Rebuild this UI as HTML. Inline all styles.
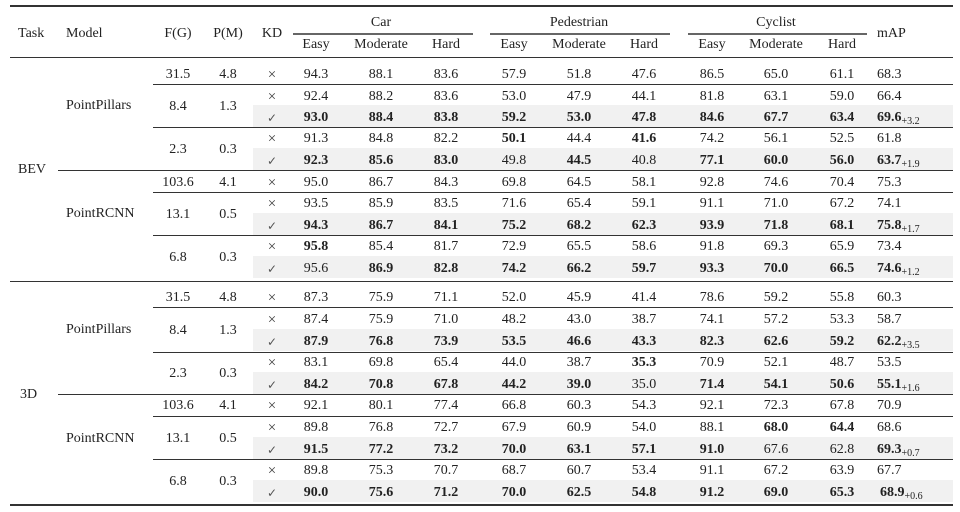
<!DOCTYPE html>
<html><head><meta charset="utf-8"><style>
body{margin:0;background:#fff;}
#t{position:relative;width:960px;height:512px;overflow:hidden;font-family:"Liberation Serif","DejaVu Serif",serif;font-size:14px;color:#222;}
.r{position:absolute;left:0;width:960px;height:20px;line-height:20px;transform:translateY(2px);}
.r span{position:absolute;top:0;width:60px;text-align:center;white-space:nowrap;}
.a{left:148px}.b{left:198px}.k{left:242px}
.c1{left:286px}.c2{left:351px}.c3{left:416px}
.c4{left:484px}.c5{left:549px}.c6{left:614px}
.c7{left:682px}.c8{left:746px}.c9{left:812px}
.r span.m{left:877px;text-align:left;width:80px}
.bd span{font-weight:bold}
.r span.k{font-weight:normal;color:#444;font-size:15px}
.r span.ck{font-size:12px;color:#555}
i{font-style:normal;font-weight:bold}
sub{font-size:10px;font-weight:normal;vertical-align:-3px;line-height:0}
.l{position:absolute;height:1px;background:#333;right:7px}
.sh{position:absolute;left:253px;right:7px;height:22px;background:#f1f1f1}
.g{position:absolute;height:20px;line-height:20px;white-space:nowrap;transform:translateY(2px)}
</style></head><body><div id="t">
<div class="l" style="top:5px;left:10px;height:2px"></div>
<div class="l" style="top:57px;left:10px"></div>
<div class="l" style="top:33px;left:293px;right:auto;width:180px;background:#666;height:2px"></div>
<div class="l" style="top:33px;left:490px;right:auto;width:180px;background:#666;height:2px"></div>
<div class="l" style="top:33px;left:688px;right:auto;width:179px;background:#666;height:2px"></div>
<div class="l" style="top:84px;left:153px"></div>
<div class="l" style="top:127px;left:153px"></div>
<div class="l" style="top:170px;left:58px"></div>
<div class="l" style="top:192px;left:153px"></div>
<div class="l" style="top:235px;left:153px"></div>
<div class="l" style="top:281px;left:10px"></div>
<div class="l" style="top:307px;left:153px"></div>
<div class="l" style="top:352px;left:153px"></div>
<div class="l" style="top:394px;left:58px"></div>
<div class="l" style="top:416px;left:153px"></div>
<div class="l" style="top:459px;left:153px"></div>
<div class="l" style="top:504px;left:10px;height:2px"></div>

<div class="sh" style="top:105px"></div>
<div class="sh" style="top:148px"></div>
<div class="sh" style="top:213px"></div>
<div class="sh" style="top:256px"></div>
<div class="sh" style="top:329px"></div>
<div class="sh" style="top:372px"></div>
<div class="sh" style="top:437px"></div>
<div class="sh" style="top:480px"></div>

<!-- header -->
<div class="g" style="top:22px;left:18px">Task</div>
<div class="g" style="top:22px;left:66px">Model</div>
<div class="r" style="top:22px"><span class="a">F(G)</span><span class="b">P(M)</span><span class="k" style="font-size:14px;color:#222">KD</span><span class="m">mAP</span></div>
<div class="r" style="top:11px"><span class="c2">Car</span><span class="c5">Pedestrian</span><span class="c8">Cyclist</span></div>
<div class="r" style="top:33px"><span class="c1">Easy</span><span class="c2">Moderate</span><span class="c3">Hard</span><span class="c4">Easy</span><span class="c5">Moderate</span><span class="c6">Hard</span><span class="c7">Easy</span><span class="c8">Moderate</span><span class="c9">Hard</span></div>

<!-- labels -->
<div class="g" style="top:158px;left:18px">BEV</div>
<div class="g" style="top:383px;left:20px">3D</div>
<div class="g" style="top:94px;left:66px">PointPillars</div>
<div class="g" style="top:202px;left:66px">PointRCNN</div>
<div class="g" style="top:318px;left:66px">PointPillars</div>
<div class="g" style="top:427px;left:66px">PointRCNN</div>

<div class="r" style="top:63px"><span class="a">31.5</span><span class="b">4.8</span></div>
<div class="r" style="top:95px"><span class="a">8.4</span><span class="b">1.3</span></div>
<div class="r" style="top:138px"><span class="a">2.3</span><span class="b">0.3</span></div>
<div class="r" style="top:171px"><span class="a">103.6</span><span class="b">4.1</span></div>
<div class="r" style="top:203px"><span class="a">13.1</span><span class="b">0.5</span></div>
<div class="r" style="top:246px"><span class="a">6.8</span><span class="b">0.3</span></div>
<div class="r" style="top:286px"><span class="a">31.5</span><span class="b">4.8</span></div>
<div class="r" style="top:319px"><span class="a">8.4</span><span class="b">1.3</span></div>
<div class="r" style="top:362px"><span class="a">2.3</span><span class="b">0.3</span></div>
<div class="r" style="top:394px"><span class="a">103.6</span><span class="b">4.1</span></div>
<div class="r" style="top:427px"><span class="a">13.1</span><span class="b">0.5</span></div>
<div class="r" style="top:470px"><span class="a">6.8</span><span class="b">0.3</span></div>

<!-- BEV rows -->
<div class="r" style="top:63px"><span class="k">×</span><span class="c1">94.3</span><span class="c2">88.1</span><span class="c3">83.6</span><span class="c4">57.9</span><span class="c5">51.8</span><span class="c6">47.6</span><span class="c7">86.5</span><span class="c8">65.0</span><span class="c9">61.1</span><span class="m">68.3</span></div>
<div class="r" style="top:85px"><span class="k">×</span><span class="c1">92.4</span><span class="c2">88.2</span><span class="c3">83.6</span><span class="c4">53.0</span><span class="c5">47.9</span><span class="c6">44.1</span><span class="c7">81.8</span><span class="c8">63.1</span><span class="c9">59.0</span><span class="m">66.4</span></div>
<div class="r bd" style="top:106px"><span class="k ck">✓</span><span class="c1">93.0</span><span class="c2">88.4</span><span class="c3">83.8</span><span class="c4">59.2</span><span class="c5">53.0</span><span class="c6">47.8</span><span class="c7">84.6</span><span class="c8">67.7</span><span class="c9">63.4</span><span class="m">69.6<sub>+3.2</sub></span></div>
<div class="r" style="top:127px"><span class="k">×</span><span class="c1">91.3</span><span class="c2">84.8</span><span class="c3">82.2</span><span class="c4"><i>50.1</i></span><span class="c5">44.4</span><span class="c6"><i>41.6</i></span><span class="c7">74.2</span><span class="c8">56.1</span><span class="c9">52.5</span><span class="m">61.8</span></div>
<div class="r" style="top:149px"><span class="k ck">✓</span><span class="c1"><i>92.3</i></span><span class="c2"><i>85.6</i></span><span class="c3"><i>83.0</i></span><span class="c4">49.8</span><span class="c5"><i>44.5</i></span><span class="c6">40.8</span><span class="c7"><i>77.1</i></span><span class="c8"><i>60.0</i></span><span class="c9"><i>56.0</i></span><span class="m"><i>63.7</i><sub>+1.9</sub></span></div>
<div class="r" style="top:171px"><span class="k">×</span><span class="c1">95.0</span><span class="c2">86.7</span><span class="c3">84.3</span><span class="c4">69.8</span><span class="c5">64.5</span><span class="c6">58.1</span><span class="c7">92.8</span><span class="c8">74.6</span><span class="c9">70.4</span><span class="m">75.3</span></div>
<div class="r" style="top:192px"><span class="k">×</span><span class="c1">93.5</span><span class="c2">85.9</span><span class="c3">83.5</span><span class="c4">71.6</span><span class="c5">65.4</span><span class="c6">59.1</span><span class="c7">91.1</span><span class="c8">71.0</span><span class="c9">67.2</span><span class="m">74.1</span></div>
<div class="r bd" style="top:214px"><span class="k ck">✓</span><span class="c1">94.3</span><span class="c2">86.7</span><span class="c3">84.1</span><span class="c4">75.2</span><span class="c5">68.2</span><span class="c6">62.3</span><span class="c7">93.9</span><span class="c8">71.8</span><span class="c9">68.1</span><span class="m">75.8<sub>+1.7</sub></span></div>
<div class="r" style="top:235px"><span class="k">×</span><span class="c1"><i>95.8</i></span><span class="c2">85.4</span><span class="c3">81.7</span><span class="c4">72.9</span><span class="c5">65.5</span><span class="c6">58.6</span><span class="c7">91.8</span><span class="c8">69.3</span><span class="c9">65.9</span><span class="m">73.4</span></div>
<div class="r" style="top:257px"><span class="k ck">✓</span><span class="c1">95.6</span><span class="c2"><i>86.9</i></span><span class="c3"><i>82.8</i></span><span class="c4"><i>74.2</i></span><span class="c5"><i>66.2</i></span><span class="c6"><i>59.7</i></span><span class="c7"><i>93.3</i></span><span class="c8"><i>70.0</i></span><span class="c9"><i>66.5</i></span><span class="m"><i>74.6</i><sub>+1.2</sub></span></div>

<!-- 3D rows -->
<div class="r" style="top:286px"><span class="k">×</span><span class="c1">87.3</span><span class="c2">75.9</span><span class="c3">71.1</span><span class="c4">52.0</span><span class="c5">45.9</span><span class="c6">41.4</span><span class="c7">78.6</span><span class="c8">59.2</span><span class="c9">55.8</span><span class="m">60.3</span></div>
<div class="r" style="top:308px"><span class="k">×</span><span class="c1">87.4</span><span class="c2">75.9</span><span class="c3">71.0</span><span class="c4">48.2</span><span class="c5">43.0</span><span class="c6">38.7</span><span class="c7">74.1</span><span class="c8">57.2</span><span class="c9">53.3</span><span class="m">58.7</span></div>
<div class="r bd" style="top:330px"><span class="k ck">✓</span><span class="c1">87.9</span><span class="c2">76.8</span><span class="c3">73.9</span><span class="c4">53.5</span><span class="c5">46.6</span><span class="c6">43.3</span><span class="c7">82.3</span><span class="c8">62.6</span><span class="c9">59.2</span><span class="m">62.2<sub>+3.5</sub></span></div>
<div class="r" style="top:351px"><span class="k">×</span><span class="c1">83.1</span><span class="c2">69.8</span><span class="c3">65.4</span><span class="c4">44.0</span><span class="c5">38.7</span><span class="c6"><i>35.3</i></span><span class="c7">70.9</span><span class="c8">52.1</span><span class="c9">48.7</span><span class="m">53.5</span></div>
<div class="r" style="top:373px"><span class="k ck">✓</span><span class="c1"><i>84.2</i></span><span class="c2"><i>70.8</i></span><span class="c3"><i>67.8</i></span><span class="c4"><i>44.2</i></span><span class="c5"><i>39.0</i></span><span class="c6">35.0</span><span class="c7"><i>71.4</i></span><span class="c8"><i>54.1</i></span><span class="c9"><i>50.6</i></span><span class="m"><i>55.1</i><sub>+1.6</sub></span></div>
<div class="r" style="top:394px"><span class="k">×</span><span class="c1">92.1</span><span class="c2">80.1</span><span class="c3">77.4</span><span class="c4">66.8</span><span class="c5">60.3</span><span class="c6">54.3</span><span class="c7">92.1</span><span class="c8">72.3</span><span class="c9">67.8</span><span class="m">70.9</span></div>
<div class="r" style="top:416px"><span class="k">×</span><span class="c1">89.8</span><span class="c2">76.8</span><span class="c3">72.7</span><span class="c4">67.9</span><span class="c5">60.9</span><span class="c6">54.0</span><span class="c7">88.1</span><span class="c8"><i>68.0</i></span><span class="c9"><i>64.4</i></span><span class="m">68.6</span></div>
<div class="r" style="top:438px"><span class="k ck">✓</span><span class="c1"><i>91.5</i></span><span class="c2"><i>77.2</i></span><span class="c3"><i>73.2</i></span><span class="c4"><i>70.0</i></span><span class="c5"><i>63.1</i></span><span class="c6"><i>57.1</i></span><span class="c7"><i>91.0</i></span><span class="c8">67.6</span><span class="c9">62.8</span><span class="m"><i>69.3</i><sub>+0.7</sub></span></div>
<div class="r" style="top:459px"><span class="k">×</span><span class="c1">89.8</span><span class="c2">75.3</span><span class="c3">70.7</span><span class="c4">68.7</span><span class="c5">60.7</span><span class="c6">53.4</span><span class="c7">91.1</span><span class="c8">67.2</span><span class="c9">63.9</span><span class="m">67.7</span></div>
<div class="r" style="top:481px"><span class="k ck">✓</span><span class="c1"><i>90.0</i></span><span class="c2"><i>75.6</i></span><span class="c3"><i>71.2</i></span><span class="c4"><i>70.0</i></span><span class="c5"><i>62.5</i></span><span class="c6"><i>54.8</i></span><span class="c7"><i>91.2</i></span><span class="c8"><i>69.0</i></span><span class="c9"><i>65.3</i></span><span class="m" style="left:880px"><i>68.9</i><sub>+0.6</sub></span></div>
</div></body></html>
